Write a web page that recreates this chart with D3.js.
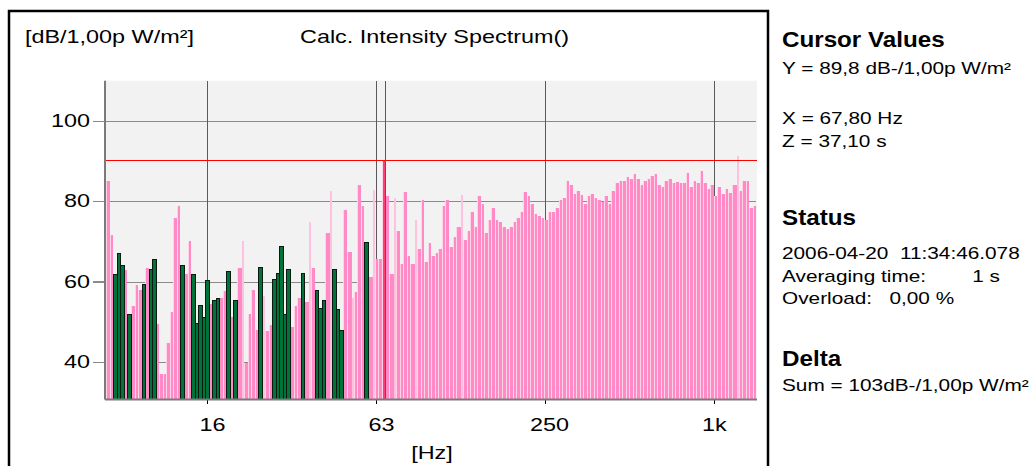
<!DOCTYPE html>
<html><head><meta charset="utf-8">
<script src="https://cdn.jsdelivr.net/npm/d3@7"></script>
<style>
html,body{margin:0;padding:0;background:#fff;}
svg{display:block;font-family:"Liberation Sans",Arial,sans-serif;}
text{white-space:pre;}
</style></head><body>
<svg id="c" width="1033" height="466"></svg>
<script>
// ---------- data ----------
// 1/24-octave bands; band i has lower edge 1000*2^((firstBand+i)/24) Hz
const firstBand = -172;
const levels = [
 85,71.5,61.8,67.0,64.1,63.0,52.0,53.9,59.1,57.9,
 59.3,63.4,63.1,65.5,49.5,37.1,37.1,44.7,52.4,75.9,
 78.8,64.1,61.8,70.0,61.8,49.7,54.1,51.2,60.3,54.5,
 55.5,56.0,56.0,57.7,62.7,51.2,55.5,63.5,70.0,39.8,
 52.0,57.8,47.9,63.7,56.3,47.7,49.1,60.7,62.2,68.8,
 52.0,63.2,48.7,53.9,55.8,62.2,54.8,74.9,63.4,57.8,
 53.5,55.5,72.1,82.6,63.2,53.3,47.9,77.8,67.4,55.8,
 57.3,84.0,78.8,69.9,61.2,82.7,65.5,65.5,90.3,81.2,
 62.0,80.9,72.6,64.3,82.2,66.3,64.3,75.3,68.2,80.4,
 64.9,69.6,66.3,67.0,68.2,78.8,80.4,68.6,71.0,73.6,
 81.5,70.3,72.6,77.3,73.6,81.2,79.3,72.1,75.4,78.3,
 75.4,74.9,73.6,73.2,73.6,74.9,75.9,77.3,82.2,81.2,
 79.3,76.8,76.4,75.9,75.4,77.3,77.3,78.3,80.4,80.9,
 85.1,84.0,81.7,82.6,81.5,79.3,81.2,81.7,80.9,80.2,
 79.8,81.2,79.3,82.6,84.6,85.1,85.1,86.1,85.6,86.7,
 85.6,84.0,85.0,85.6,86.2,86.7,84.0,83.6,85.1,85.6,
 84.6,84.8,84.6,84.6,87.1,83.6,85.1,84.6,87.6,84.6,
 83.1,84.0,81.2,83.6,81.7,83.1,82.1,84.0,91.2,82.5,
 85.1,85.1,78.3,78.8
];
// intensity direction per band: negative bands are green, narrow bands light pink, others pink
const negativeBands = [2,3,4,6,10,12,13,21,24,25,26,27,28,30,31,34,36,43,47,48,49,50,51,55,59,60,61,64,65,66,73];
const narrowBands = [38,44,57,63,69,75,81,87,100,178];

const yTicks = [40, 60, 80, 100];
const xTickFreqs = [15.85, 63.1, 251.2, 1000];
const xTickLabels = ["16", "63", "250", "1k"];
const cursorFreq = 67.8;
const cursorText = ["Y = 89,8 dB-/1,00p W/m²", "X = 67,80 Hz", "Z = 37,10 s"];
const statusText = ["2006-04-20  11:34:46.078", "Averaging time:        1 s", "Overload:   0,00 %"];
const deltaText = ["Sum = 103dB-/1,00p W/m²"];

// ---------- layout ----------
const SX = 1.3;   // horizontal stretch of the captured screen
const svg = d3.select("#c");
const P = {l:105, r:757, t:80.7, b:398.5};
const fLo = 1000*Math.pow(2, firstBand/24);
const fHi = 1000*Math.pow(2, 12.3/24);
const x = d3.scaleLog().domain([fLo, fHi]).range([106.3, 757.4]);
const y = d3.scaleLinear().domain([30.9, 110]).range([P.b, P.t]);

const bandDir = levels.map((v,i) => negativeBands.includes(i) ? "g" : narrowBands.includes(i) ? "l" : "p");

// outer frame
svg.append("rect").attr("x",9).attr("y",11).attr("width",759).attr("height",480)
  .attr("fill","none").attr("stroke","#000").attr("stroke-width",2.5);

// plot background
svg.append("rect").attr("x",P.l).attr("y",P.t).attr("width",P.r-P.l).attr("height",P.b-P.t)
  .attr("fill","#f2f2f2");

const grid = svg.append("g").attr("shape-rendering","crispEdges");
grid.selectAll("line.h").data(yTicks).join("line")
  .attr("x1",P.l).attr("x2",P.r-1).attr("y1",d=>Math.round(y(d))+0.5).attr("y2",d=>Math.round(y(d))+0.5)
  .attr("stroke","#8a8a8a").attr("stroke-width",1.3);
grid.selectAll("line.v").data(xTickFreqs).join("line")
  .attr("x1",d=>Math.round(x(d))+0.5).attr("x2",d=>Math.round(x(d))+0.5).attr("y1",P.t).attr("y2",P.b)
  .attr("stroke","#5a5a5a").attr("stroke-width",1);

// bars
const bars = svg.append("g").attr("shape-rendering","crispEdges");
const cursorBand = Math.floor(24*Math.log2(cursorFreq/1000)) - firstBand;
const edge = k => Math.round(x(1000*Math.pow(2,k/24)));
const geo = levels.map((v,i) => {
  const k = firstBand + i;
  return {x0: edge(k), x1: Math.min(edge(k+1), P.r), yt: Math.round(y(v)), v, d: bandDir[i], i};
});
// pink and narrow bands first
geo.forEach((g, i) => {
  if (g.d === "g") return;
  const h = P.b - g.yt;
  if (g.d === "l") {
    bars.append("rect").attr("x",g.x1-2).attr("y",g.yt).attr("width",2).attr("height",h).attr("fill","#ffc2de");
    return;
  }
  const next = geo[i+1];
  const right = (next && next.d === "l") ? next.x1 - 2 : g.x1;
  const body = i === cursorBand ? "#ff3f74" : "#ff8ac5";
  bars.append("rect").attr("x",g.x0).attr("y",g.yt).attr("width",1).attr("height",h).attr("fill","#ffd3e8");
  bars.append("rect").attr("x",g.x0+1).attr("y",g.yt).attr("width",Math.max(1,right-g.x0-1)).attr("height",h).attr("fill",body);
});
// negative (green) bands on top
geo.filter(g => g.d === "g").forEach(g => {
  const h = P.b - g.yt;
  bars.append("rect").attr("x",g.x0).attr("y",g.yt).attr("width",g.x1-g.x0+1).attr("height",h).attr("fill","#0a1a10");
  bars.append("rect").attr("x",g.x0+1).attr("y",g.yt+1).attr("width",Math.max(1,g.x1-g.x0-1)).attr("height",h-1).attr("fill","#00733b");
});

// cursor lines
const cy = Math.round(y(levels[cursorBand]))+0.5;
svg.append("line").attr("x1",P.l).attr("x2",P.r).attr("y1",cy).attr("y2",cy)
  .attr("stroke","#ff0000").attr("stroke-width",1).attr("shape-rendering","crispEdges");
const cx = Math.round(x(cursorFreq))+0.5;
svg.append("line").attr("x1",cx).attr("x2",cx).attr("y1",P.t).attr("y2",P.b)
  .attr("stroke","#ff1020").attr("stroke-width",1).attr("shape-rendering","crispEdges");

// axes
const yAxis = svg.append("g").attr("transform",`translate(${P.l},0)`)
  .call(d3.axisLeft(y).tickValues(yTicks).tickSize(12).tickFormat(d3.format("d")));
yAxis.select(".domain").remove();
yAxis.selectAll(".tick line").attr("stroke","#8a8a8a").attr("stroke-width",1.3).attr("shape-rendering","crispEdges");
yAxis.selectAll(".tick text").attr("x",null).attr("font-size",18).attr("fill","#000")
  .attr("font-family","Liberation Sans, Arial, sans-serif")
  .attr("transform",`translate(-15,0) scale(${SX},1)`);

const labelShift = [5, 5, 4, 0];
const xAxis = svg.append("g").attr("transform",`translate(0,${P.b})`)
  .call(d3.axisBottom(x).tickValues(xTickFreqs).tickSize(5).tickFormat((d,i)=>xTickLabels[i]));
xAxis.select(".domain").remove();
xAxis.selectAll(".tick line").attr("stroke","#000").attr("shape-rendering","crispEdges");
xAxis.selectAll(".tick text").attr("y",null).attr("font-size",18).attr("fill","#000")
  .attr("font-family","Liberation Sans, Arial, sans-serif")
  .attr("transform",(d,i)=>`translate(${labelShift[i]},20) scale(${SX},1)`);

// axis lines
svg.append("line").attr("x1",P.l).attr("x2",P.l).attr("y1",P.t).attr("y2",P.b+1)
  .attr("stroke","#7a7a7a").attr("stroke-width",2);
svg.append("line").attr("x1",P.l).attr("x2",P.r).attr("y1",P.b+1).attr("y2",P.b+1)
  .attr("stroke","#7a7a7a").attr("stroke-width",2);

// texts
function txt(t, px, py, size, opts={}) {
  const s = opts.bold ? 1.1 : SX;
  const e = svg.append("text").attr("transform",`translate(${px},${py}) scale(${s},1)`)
    .attr("font-size",size).attr("fill","#000").text(t);
  if (opts.bold) e.attr("font-weight","bold");
  if (opts.anchor) e.attr("text-anchor",opts.anchor);
  return e;
}
txt("[dB/1,00p W/m²]", 25, 43, 18);
txt("Calc. Intensity Spectrum()", 300, 43, 18);
txt("[Hz]", 432, 459, 18, {anchor:"middle"});

txt("Cursor Values", 782, 47, 22, {bold:true});
txt(cursorText[0], 782, 74, 16);
txt(cursorText[1], 782, 124, 16);
txt(cursorText[2], 782, 147, 16);
txt("Status", 782, 225, 22, {bold:true});
txt(statusText[0], 782, 259, 16);
txt(statusText[1], 782, 282, 16);
txt(statusText[2], 782, 304, 16);
txt("Delta", 782, 366, 22, {bold:true});
txt(deltaText[0], 782, 391, 16);
</script>
</body></html>
